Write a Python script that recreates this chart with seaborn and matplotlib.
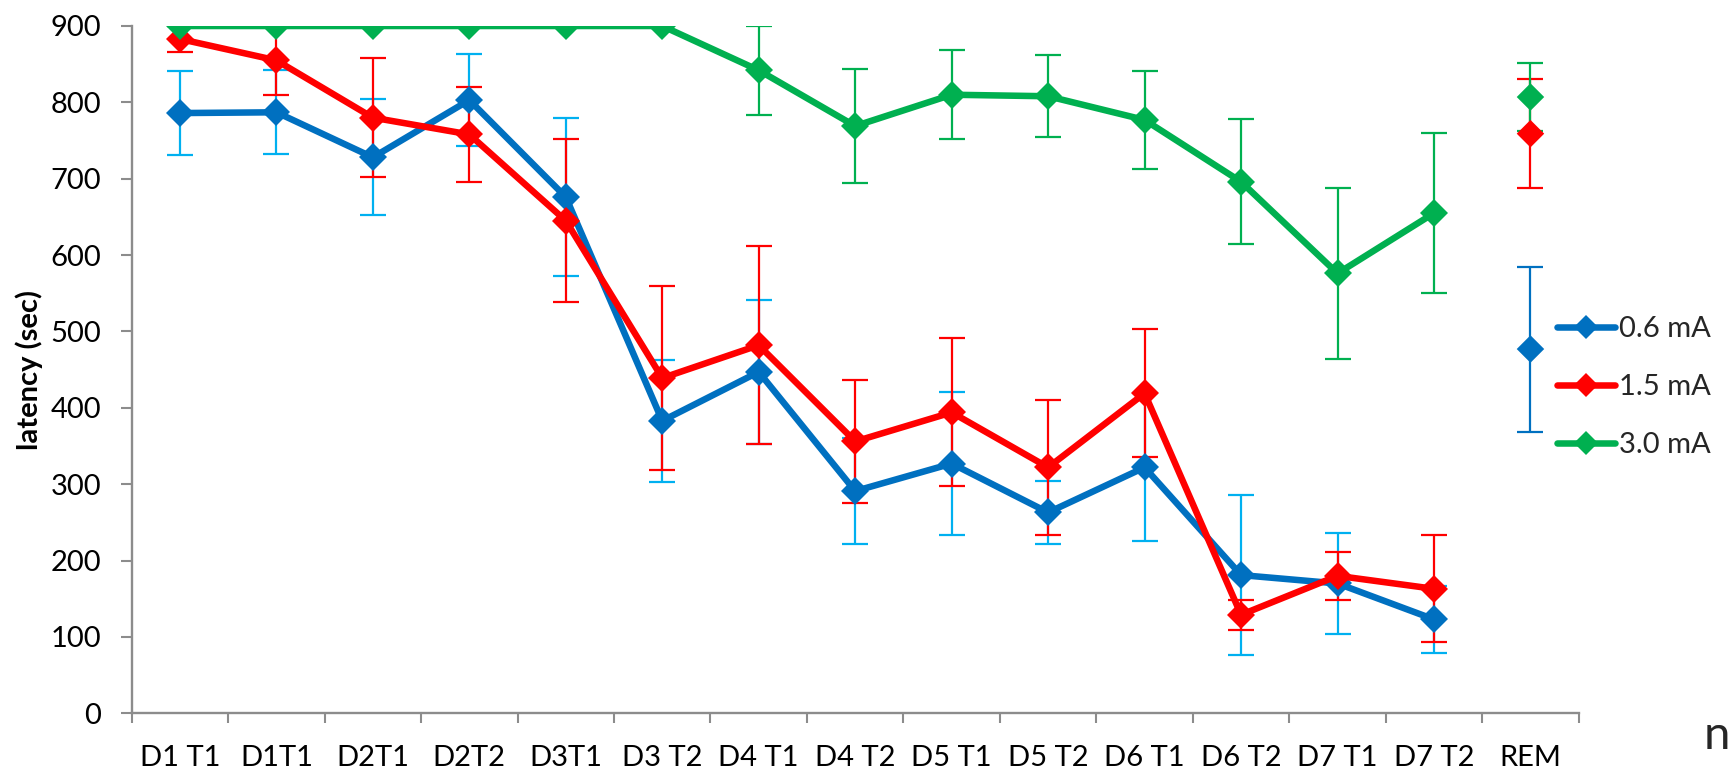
import numpy as np
import pandas as pd
import matplotlib
matplotlib.use("Agg")
import matplotlib.pyplot as plt
import seaborn as sns
from matplotlib.lines import Line2D

# Session labels (last one is the retention test, plotted without connecting lines)
categories = ["D1 T1", "D1T1", "D2T1", "D2T2", "D3T1", "D3 T2", "D4 T1", "D4 T2",
              "D5 T1", "D5 T2", "D6 T1", "D6 T2", "D7 T1", "D7 T2", "REM"]

series_names = ["0.6 mA", "1.5 mA", "3.0 mA"]

lat_06 = [786, 787, 728, 803, 676, 383, 447, 291, 327, 263, 322, 181, 170, 123, 477]
err_06 = [55, 55, 76, 60, 104, 80, 94, 69, 94, 41, 97, 105, 66, 44, 108]

lat_15 = [883, 855, 780, 758, 645, 439, 482, 356, 394, 322, 419, 129, 180, 163, 759]
err_15 = [17, 45, 78, 62, 107, 120, 130, 80, 97, 88, 84, 20, 31, 70, 71]

lat_30 = [900, 900, 900, 900, 900, 900, 842, 769, 810, 808, 777, 696, 576, 655, 807]
err_30 = [0, 0, 0, 0, 0, 0, 58, 75, 58, 54, 64, 82, 112, 105, 44]

line_colors = ["#0070C0", "#FF0000", "#00B050"]
bar_colors = ["#00B0F0", "#FF0000", "#00B050"]
rem_bar_colors = ["#0070C0", "#FF0000", "#00B050"]

sns.set_theme(style="white")
plt.rcParams["font.family"] = ["Lato", "DejaVu Sans"]

W, H = 1733, 774
fig = plt.figure(figsize=(W / 100, H / 100), dpi=100)
ax = fig.add_axes([131.7 / W, 1 - 713.3 / H, (1578.7 - 131.7) / W, (713.3 - 26) / H])

means = [lat_06, lat_15, lat_30]
errs = [err_06, err_15, err_30]
n_train = len(categories) - 1
pos = np.arange(len(categories))

rows = []
for name, m in zip(series_names, means):
    for i in range(n_train):
        rows.append({"pos": pos[i], "latency": m[i], "current": name})
df = pd.DataFrame(rows)

rem_df = pd.DataFrame({"pos": [pos[-1]] * 3,
                       "latency": [m[-1] for m in means],
                       "current": series_names})

# error bars underneath the lines
for m, e, c, rc in zip(means, errs, bar_colors, rem_bar_colors):
    ax.errorbar(pos[:n_train], m[:n_train], yerr=e[:n_train], fmt="none",
                ecolor=c, elinewidth=1.6, capsize=9.5, capthick=1.6, zorder=1)
    ax.errorbar(pos[-1:], m[-1:], yerr=e[-1:], fmt="none",
                ecolor=rc, elinewidth=1.6, capsize=9.5, capthick=1.6, zorder=1)

palette = dict(zip(series_names, line_colors))
sns.lineplot(data=df, x="pos", y="latency", hue="current", hue_order=series_names,
             palette=palette, marker="D", markersize=14, markeredgewidth=0,
             linewidth=4.7, errorbar=None, legend=False, ax=ax, zorder=3)
sns.scatterplot(data=rem_df, x="pos", y="latency", hue="current", hue_order=series_names,
                palette=palette, marker="D", s=196, linewidth=0, legend=False,
                ax=ax, zorder=4)

ax.set_xlim(-0.5, len(categories) - 0.5)
ax.set_ylim(0, 900)
ax.set_yticks(np.arange(0, 901, 100))
ax.set_xticks(np.arange(-0.5, len(categories), 1))
ax.set_xticklabels([])
ax.set_xticks(pos, minor=True)
ax.set_xticklabels(categories, minor=True)
ax.set_xlabel("")

axis_gray = "#8C8C8C"
for side in ["top", "right"]:
    ax.spines[side].set_visible(False)
for side in ["left", "bottom"]:
    ax.spines[side].set_color(axis_gray)
    ax.spines[side].set_linewidth(1.7)

ax.tick_params(axis="y", which="major", direction="out", length=8, width=1.5,
               color=axis_gray, labelsize=21, pad=14, labelcolor="black", left=True)
ax.tick_params(axis="x", which="major", direction="out", length=7, width=1.5,
               color=axis_gray, bottom=True)
ax.tick_params(axis="x", which="minor", length=0, labelsize=21, pad=23,
               labelcolor="black", bottom=True)

ax.set_ylabel("latency (sec)", fontsize=21, fontweight="bold", color="black")
ax.yaxis.set_label_coords(-0.061, 0.5)

handles = [Line2D([0], [0], color=c, lw=4.7, marker="D", markersize=12,
                  markeredgewidth=0, solid_capstyle="round")
           for c in line_colors]
ax.legend(handles, series_names, loc="center left",
          bbox_to_anchor=(1557 / W, 1 - 387 / H), bbox_transform=fig.transFigure,
          frameon=False, fontsize=21, handlelength=2.0, handletextpad=0.12,
          labelspacing=1.1, borderpad=0, borderaxespad=0)

fig.text(1704 / W, 1 - 749 / H, "n", fontsize=34, ha="left", va="baseline")

fig.savefig("out.png", dpi=100)
